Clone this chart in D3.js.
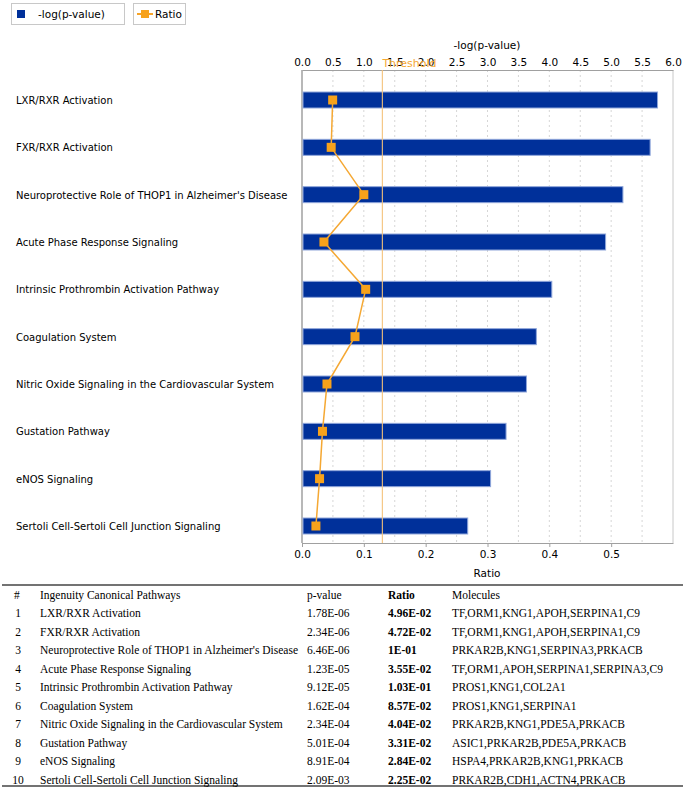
<!DOCTYPE html>
<html>
<head>
<meta charset="utf-8">
<script src="https://cdn.jsdelivr.net/npm/d3@7"></script>
<style>
body { margin: 0; background: #fff; }
svg { display: block; }
</style>
</head>
<body>
<svg width="685" height="789"></svg>
<script>
var Pathways = ["LXR/RXR Activation", "FXR/RXR Activation", "Neuroprotective Role of THOP1 in Alzheimer's Disease",
    "Acute Phase Response Signaling", "Intrinsic Prothrombin Activation Pathway", "Coagulation System",
    "Nitric Oxide Signaling in the Cardiovascular System", "Gustation Pathway", "eNOS Signaling",
    "Sertoli Cell-Sertoli Cell Junction Signaling"];
var NegLogP = [5.75, 5.63, 5.19, 4.91, 4.04, 3.79, 3.63, 3.30, 3.05, 2.68];
var Ratios = [0.0496, 0.0472, 0.1, 0.0355, 0.103, 0.0857, 0.0404, 0.0331, 0.0284, 0.0225];
var PValueText = ["1.78E-06", "2.34E-06", "6.46E-06", "1.23E-05", "9.12E-05", "1.62E-04", "2.34E-04", "5.01E-04", "8.91E-04", "2.09E-03"];
var RatioText = ["4.96E-02", "4.72E-02", "1E-01", "3.55E-02", "1.03E-01", "8.57E-02", "4.04E-02", "3.31E-02", "2.84E-02", "2.25E-02"];
var Molecules = ["TF,ORM1,KNG1,APOH,SERPINA1,C9", "TF,ORM1,KNG1,APOH,SERPINA1,C9", "PRKAR2B,KNG1,SERPINA3,PRKACB",
    "TF,ORM1,APOH,SERPINA1,SERPINA3,C9", "PROS1,KNG1,COL2A1", "PROS1,KNG1,SERPINA1",
    "PRKAR2B,KNG1,PDE5A,PRKACB", "ASIC1,PRKAR2B,PDE5A,PRKACB", "HSPA4,PRKAR2B,KNG1,PRKACB", "PRKAR2B,CDH1,ACTN4,PRKACB"];
var PTicks = [0, 0.5, 1, 1.5, 2, 2.5, 3, 3.5, 4, 4.5, 5, 5.5, 6];
var RatioTicks = [0, 0.1, 0.2, 0.3, 0.4, 0.5];
var Threshold = 1.3;

var svg = d3.select("svg");
var sans = "'DejaVu Sans', sans-serif";
var serif = "'Liberation Serif', 'Times New Roman', serif";
var tableSize = "11.5px";

var plotLeft = 302, plotRight = 673, plotTop = 70, plotBottom = 543;

var Xscale = d3.scaleLinear().domain([0, 6]).range([plotLeft, plotRight]);
var Rscale = d3.scaleLinear().domain([0, 0.6]).range([plotLeft, plotRight]);
var Yscale = d3.scalePoint().domain(Pathways).range([100, 526]);
var barHeight = 16;

//Legend
svg.append("rect").attr("x", 11.5).attr("y", 3.5).attr("width", 113).attr("height", 21)
    .style("fill", "#fff").style("stroke", "#c8c8c8");
svg.append("rect").attr("x", 17).attr("y", 10).attr("width", 8).attr("height", 8).style("fill", "#00309a");
svg.append("text").attr("x", 38).attr("y", 18).style("font-family", sans).style("font-size", "10.5px").text("-log(p-value)");
svg.append("rect").attr("x", 133.5).attr("y", 3.5).attr("width", 52).attr("height", 21)
    .style("fill", "#fff").style("stroke", "#c8c8c8");
svg.append("line").attr("x1", 137).attr("x2", 153).attr("y1", 14).attr("y2", 14).style("stroke", "#f7a428").style("stroke-width", 2);
svg.append("rect").attr("x", 141).attr("y", 10).attr("width", 8).attr("height", 8).style("fill", "#f7a21b");
svg.append("text").attr("x", 155).attr("y", 18).style("font-family", sans).style("font-size", "10.5px").text("Ratio");

//Grid
svg.selectAll(".grid").data(PTicks.slice(1, -1)).enter().append("line")
    .attr("x1", function(d){ return Xscale(d); }).attr("x2", function(d){ return Xscale(d); })
    .attr("y1", plotTop).attr("y2", plotBottom)
    .style("stroke", "#d6d6d6").style("stroke-dasharray", "2,3");

//Frame
svg.append("line").attr("x1", plotRight).attr("x2", plotRight).attr("y1", plotTop).attr("y2", plotBottom).style("stroke", "#c8c8c8");
svg.append("line").attr("x1", plotLeft).attr("x2", plotLeft).attr("y1", plotTop).attr("y2", plotBottom).style("stroke", "#a0a0a0").style("stroke-width", 1.5);

//Top axis
var topAxis = d3.axisTop(Xscale).tickValues(PTicks).tickFormat(d3.format(".1f")).tickSize(0).tickSizeOuter(0);
var gTop = svg.append("g").attr("transform", "translate(0," + plotTop + ")").call(topAxis);
gTop.select(".domain").style("stroke", "#a0a0a0");
gTop.selectAll(".tick text").style("font-family", sans).style("font-size", "10.5px").attr("y", -4).style("fill", "#000");
svg.append("text").attr("x", 487).attr("y", 49).style("text-anchor", "middle")
    .style("font-family", sans).style("font-size", "10.5px").text("-log(p-value)");

//Bottom axis
var bottomAxis = d3.axisBottom(Rscale).tickValues(RatioTicks).tickFormat(d3.format(".1f")).tickSize(4).tickSizeOuter(0);
var gBottom = svg.append("g").attr("transform", "translate(0," + plotBottom + ")").call(bottomAxis);
gBottom.select(".domain").style("stroke", "#a0a0a0");
gBottom.selectAll(".tick line").style("stroke", "#a0a0a0");
gBottom.selectAll(".tick text").style("font-family", sans).style("font-size", "10.5px").attr("y", 8).style("fill", "#000");
svg.append("text").attr("x", 487).attr("y", 577).style("text-anchor", "middle")
    .style("font-family", sans).style("font-size", "10.5px").text("Ratio");

//Bars
svg.selectAll(".bar").data(NegLogP).enter().append("rect")
    .attr("x", Xscale(0) + 1)
    .attr("y", function(d, i){ return Yscale(Pathways[i]) - barHeight / 2; })
    .attr("width", function(d){ return Xscale(d) - Xscale(0) - 1; })
    .attr("height", barHeight)
    .style("fill", "#00309a").style("stroke", "#8fa6da").style("stroke-width", 1);

//Threshold
svg.append("line").attr("x1", Xscale(Threshold)).attr("x2", Xscale(Threshold)).attr("y1", plotTop).attr("y2", plotBottom)
    .style("stroke", "#f5c27a").style("stroke-width", 1.2).style("opacity", 0.9);
svg.append("text").attr("x", Xscale(Threshold)).attr("y", 67)
    .style("font-family", sans).style("font-size", "11px").style("fill", "#f5a833").text("Threshold");

//Category labels
svg.selectAll(".label").data(Pathways).enter().append("text")
    .attr("x", 16).attr("y", function(d){ return Yscale(d) + 4; })
    .style("font-family", sans).style("font-size", "10px").text(function(d){ return d; });

//Ratio line
var line = d3.line()
    .x(function(d){ return Rscale(d); })
    .y(function(d, i){ return Yscale(Pathways[i]); });
svg.append("path").datum(Ratios).attr("d", line)
    .style("fill", "none").style("stroke", "#f5a833").style("stroke-width", 1.5);
svg.selectAll(".marker").data(Ratios).enter().append("rect")
    .attr("x", function(d){ return Rscale(d) - 4.5; })
    .attr("y", function(d, i){ return Yscale(Pathways[i]) - 4.5; })
    .attr("width", 9).attr("height", 9)
    .style("fill", "#f7a21b");

//Table
var rowY = d3.scaleLinear().domain([0, 9]).range([617, 784]);
svg.append("line").attr("x1", 2).attr("x2", 683).attr("y1", 585).attr("y2", 585).style("stroke", "#444").style("stroke-width", 1.5);
svg.append("line").attr("x1", 2).attr("x2", 683).attr("y1", 786).attr("y2", 786).style("stroke", "#444").style("stroke-width", 1.5);

var headers = [["#", 14, "normal"], ["Ingenuity Canonical Pathways", 40, "normal"], ["p-value", 307, "normal"], ["Ratio", 388, "bold"], ["Molecules", 452, "normal"]];
headers.forEach(function(h){
    svg.append("text").attr("x", h[1]).attr("y", 599)
        .style("font-family", serif).style("font-size", tableSize).style("font-weight", h[2]).text(h[0]);
});

for(i = 0; i < Pathways.length; i++)
{
    var y = rowY(i);
    svg.append("text").attr("x", 18).attr("y", y).style("text-anchor", "middle")
        .style("font-family", serif).style("font-size", tableSize).text(i + 1);
    svg.append("text").attr("x", 40).attr("y", y)
        .style("font-family", serif).style("font-size", tableSize).text(Pathways[i]);
    svg.append("text").attr("x", 307).attr("y", y)
        .style("font-family", serif).style("font-size", tableSize).text(PValueText[i]);
    svg.append("text").attr("x", 388).attr("y", y)
        .style("font-family", serif).style("font-size", tableSize).style("font-weight", "bold").text(RatioText[i]);
    svg.append("text").attr("x", 452).attr("y", y)
        .style("font-family", serif).style("font-size", tableSize).text(Molecules[i]);
}
</script>
</body>
</html>
